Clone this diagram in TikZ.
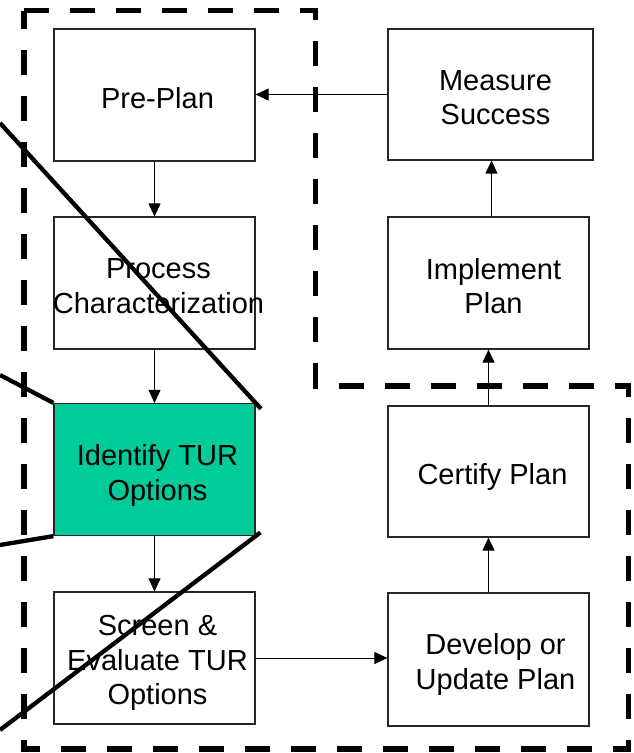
\documentclass[tikz,border=0pt]{standalone}
\usepackage{fontspec}
\setmainfont{Liberation Sans}
\usetikzlibrary{arrows.meta,calc}
\definecolor{tealfill}{RGB}{0,204,153}
\begin{document}
\begin{tikzpicture}[x=1pt,y=-1pt,
  stepbox/.style={draw=black!85, line width=1.2pt, fill=white,
    minimum width=201pt, minimum height=132pt, inner sep=0pt},
  steptext/.style={inner sep=0pt, text depth=0pt, align=center,
    font=\fontsize{29}{34.5}\selectfont},
  flow/.style={line width=1pt, -{Triangle[length=13pt,width=12pt]}},
  zoomline/.style={line width=4.3pt, black},
  region/.style={line width=5.5pt, dash pattern=on 25pt off 21pt, line join=miter}]
\useasboundingbox (0,0) rectangle (634,753);

% dashed boundary around the planning cycle
\draw[region] (24,10.5) -- (315.5,10.5) -- (315.5,386) -- (628.5,386)
  -- (628.5,749) -- (24,749) -- cycle;

% process step boxes
\node[stepbox] (pre)    at (154.5,95)    {};
\node[stepbox] (proc)   at (154.5,283)   {};
\node[stepbox, fill=tealfill] (ident) at (154.5,469.5) {};
\node[stepbox] (screen) at (154.5,658)   {};
\node[stepbox, minimum width=205pt, minimum height=131pt] (meas) at (490.5,94.5) {};
\node[stepbox] (impl)   at (488.5,283)   {};
\node[stepbox, minimum height=131pt] (cert) at (488.5,471.5) {};
\node[stepbox, minimum height=133pt] (dev)  at (488.5,659.5) {};

% step labels
\node[steptext] (pre-t)    at ($(pre)+(3,3)$)    {Pre-Plan};
\node[steptext] (proc-t)   at ($(proc)+(4,3)$)   {Process\\\makebox[0pt][c]{Characterization}};
\node[steptext] (ident-t)  at ($(ident)+(3,3)$)  {Identify TUR\\Options};
\node[steptext] (screen-t) at ($(screen)+(3,2)$) {Screen \&\\Evaluate TUR\\Options};
\node[steptext] (meas-t)   at ($(meas)+(5,3)$)   {Measure\\Success};
\node[steptext] (impl-t)   at ($(impl)+(5,3)$)   {Implement\\Plan};
\node[steptext] (cert-t)   at ($(cert)+(4,2)$)   {Certify Plan};
\node[steptext] (dev-t)    at ($(dev)+(7,2)$)    {Develop or\\Update Plan};

% flow between steps
\draw[flow] (meas.west) -- (meas.west -| pre.east);
\draw[flow] (pre.south) -- (proc.north);
\draw[flow] (proc.south) -- (ident.north);
\draw[flow] (ident.south) -- (screen.north);
\draw[flow] (screen.east) -- (screen.east -| dev.west);
\draw[flow] (dev.north) -- (cert.south);
\draw[flow] (cert.north) -- (impl.south);
\draw[flow] ($(impl.north)+(3,0)$) -- ($(impl.north |- meas.south)+(3,0)$);

% magnification lines towards the highlighted step
\coordinate (z1) at (0,123);
\coordinate (z2) at (0,375);
\coordinate (z3) at (0,545);
\coordinate (z4) at (0,730);
\draw[zoomline, shorten >=-8pt] (z1) -- (ident.north east);
\draw[zoomline] (z2) -- (ident.north west);
\draw[zoomline] (z3) -- (ident.south west);
\draw[zoomline, shorten >=-6pt] (z4) -- (ident.south east);
\end{tikzpicture}
\end{document}
